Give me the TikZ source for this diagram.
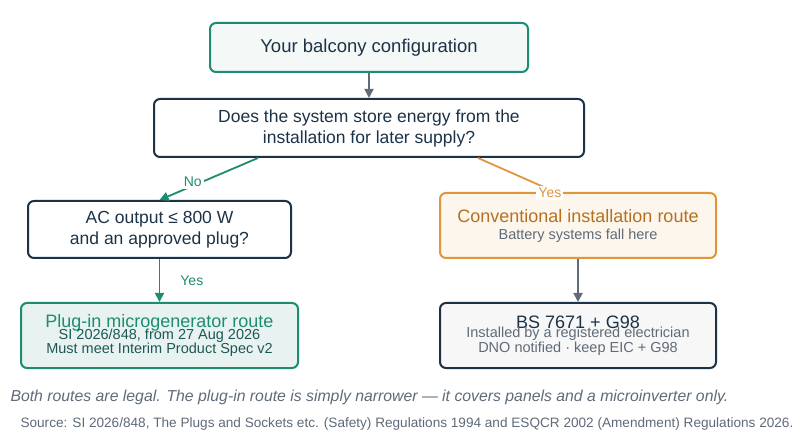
\documentclass[tikz,border=0pt]{standalone}
\usepackage{fontspec}
\setmainfont{Liberation Sans}
\usetikzlibrary{arrows.meta}
\definecolor{grn}{HTML}{1E8C70}
\definecolor{dark}{HTML}{1C3347}
\definecolor{org}{HTML}{E0963A}
\definecolor{orgt}{HTML}{B8701E}
\definecolor{gry}{HTML}{5F6B78}
\tikzset{
 box/.style={draw, rounded corners=6pt, line width=2pt, align=center, text=dark, inner sep=0pt},
 arr/.style={line width=1.8pt, -{Triangle[length=9pt,width=9pt]}},
 lbl/.style={fill=white, font=\fontsize{14}{16}\selectfont, inner sep=2pt}
}
\begin{document}
\begin{tikzpicture}[x=1pt,y=-1pt]
\useasboundingbox[fill=white] (0,0) rectangle (800,443);
\node[box, draw=grn, fill=grn!5, minimum width=318, minimum height=49, font=\fontsize{18.5}{21}\selectfont] (A) at (369,47.5) {Your balcony configuration};
\node[box, draw=dark, fill=white, minimum width=430, minimum height=58, font=\fontsize{17.5}{21}\selectfont] (B) at (369,128) {Does the system store energy from the\\installation for later supply?};
\node[box, draw=dark, fill=white, minimum width=263, minimum height=57, font=\fontsize{17.5}{21}\selectfont] (C) at (159.5,229.5) {AC output ≤ 800 W\\and an approved plug?};
\node[box, draw=org, fill=org!9, minimum width=276, minimum height=65] (D) at (578,225.5) {{\color{orgt}\fontsize{18}{21}\selectfont Conventional installation route}\\[5pt]{\color{gry}\fontsize{14.5}{17}\selectfont Battery systems fall here}};
\node[box, draw=grn, fill=grn!10, minimum width=277, minimum height=65] (E) at (159.5,335.5) {{\color{grn}\fontsize{18}{18}\selectfont Plug-in microgenerator route}\\[-3pt]{\color{dark!60!grn}\fontsize{14.5}{14}\selectfont SI 2026/848, from 27 Aug 2026}\\{\color{dark!60!grn}\fontsize{14.5}{14}\selectfont Must meet Interim Product Spec v2}};
\node[box, draw=dark, fill=gray!6, minimum width=276, minimum height=65] (F) at (578,335.5) {{\fontsize{18}{18}\selectfont BS 7671 + G98}\\[-3pt]{\color{gry}\fontsize{14.5}{14}\selectfont Installed by a registered electrician}\\{\color{gry}\fontsize{14.5}{14}\selectfont DNO notified · keep EIC + G98}};
\draw[arr, gry] (A) -- (B);
\draw[arr, grn] ([xshift=-111pt]B.south) -- node[lbl, text=grn, pos=0.5, xshift=-16pt, yshift=-3pt]{No} (C.north);
\draw[line width=1.8pt, org] ([xshift=109pt]B.south) -- node[lbl, text=org, pos=0.7, xshift=18pt, yshift=-11pt]{Yes} ([xshift=-23pt]D.north);
\draw[arr, grn] (C) -- node[lbl, text=grn, right=18pt]{Yes} (E);
\draw[arr, gry] (D) -- (F);
\node[anchor=west, text=gry, font=\fontsize{15.8}{18}\itshape] (n1) at (7,397) {Both routes are legal. The plug-in route is simply narrower — it covers panels and a microinverter only.};
\node[anchor=west, text=gry, font=\fontsize{13.6}{15}\selectfont] (n2) at (17,424) {Source: SI 2026/848, The Plugs and Sockets etc. (Safety) Regulations 1994 and ESQCR 2002 (Amendment) Regulations 2026.};
\end{tikzpicture}
\end{document}
